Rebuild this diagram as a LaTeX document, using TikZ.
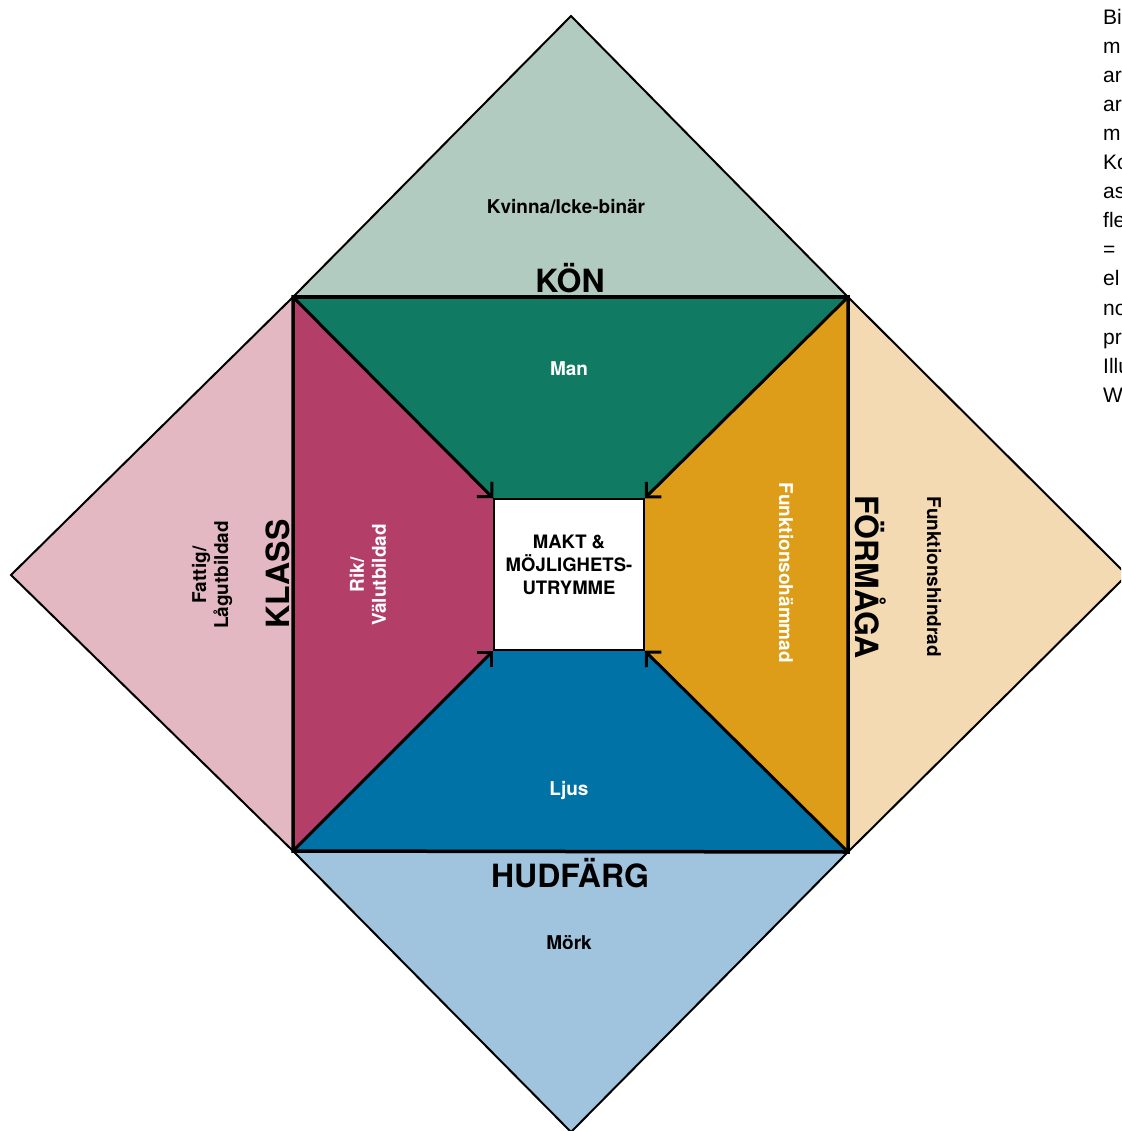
\documentclass[tikz,border=0pt]{standalone}
\usepackage{fontspec}
\setmainfont{TeX Gyre Heros}
\newfontfamily\notefont{Liberation Sans}
\usetikzlibrary{arrows.meta}
\definecolor{konlight}{RGB}{178,203,193}
\definecolor{kondark}{RGB}{16,122,98}
\definecolor{klasslight}{RGB}{227,184,194}
\definecolor{klassdark}{RGB}{179,63,105}
\definecolor{formlight}{RGB}{243,218,178}
\definecolor{formdark}{RGB}{222,157,24}
\definecolor{hudlight}{RGB}{160,196,222}
\definecolor{huddark}{RGB}{0,114,166}

\begin{document}
\begin{tikzpicture}[x=1pt,y=-1pt,
  rim/.style={line width=2pt,line join=miter},
  side/.style={line width=3.5pt,line join=miter},
  spoke/.style={line width=3pt,-{Straight Barb[angle=90:15pt]}},
  lbl/.style={font=\fontsize{19}{22}\selectfont\bfseries,align=center},
  dim/.style={font=\fontsize{32}{34}\selectfont\bfseries},
  note/.style={font=\notefont\fontsize{21}{25}\selectfont,inner sep=0pt}]
\useasboundingbox (0,0) rectangle (1121,1131);
\clip (0,0) rectangle (1121,1131);
% outer diamond tips and the square
\coordinate (top) at (571,16);
\coordinate (left) at (11,575);
\coordinate (right) at (1127,575);
\coordinate (bottom) at (571,1132);
\coordinate (sqnw) at (293,297);
\coordinate (sqne) at (848,297);
\coordinate (sqse) at (848,852);
\coordinate (sqsw) at (293,851);
% corners of the centre box
\coordinate (bxnw) at (494,499);
\coordinate (bxne) at (644,499);
\coordinate (bxse) at (644,650);
\coordinate (bxsw) at (494,650);
% outer triangles
\fill[konlight] (top) -- (sqne) -- (sqnw) -- cycle;
\fill[klasslight] (left) -- (sqnw) -- (sqsw) -- cycle;
\fill[formlight] (right) -- (sqse) -- (sqne) -- cycle;
\fill[hudlight] (bottom) -- (sqsw) -- (sqse) -- cycle;
% inner trapezoids
\fill[kondark] (sqnw) -- (sqne) -- (bxne) -- (bxnw) -- cycle;
\fill[klassdark] (sqnw) -- (bxnw) -- (bxsw) -- (sqsw) -- cycle;
\fill[formdark] (sqne) -- (sqse) -- (bxse) -- (bxne) -- cycle;
\fill[huddark] (sqsw) -- (bxsw) -- (bxse) -- (sqse) -- cycle;
\node[draw,line width=1.5pt,fill=white,minimum width=150pt,minimum height=151pt,
  inner sep=0pt] (makt) at (569,574.5) {};
\node[lbl,font=\fontsize{18.5}{23}\selectfont\bfseries] (makttext) at (569,565)
  {MAKT \&\\MÖJLIGHETS-\\UTRYMME};
\draw[rim] (top) -- (sqnw) -- (left) -- (sqsw) -- (bottom) -- (sqse) -- (right) -- (sqne) -- cycle;
\draw[side] (sqnw) -- (sqne) -- (sqse) -- (sqsw) -- cycle;
\draw[spoke] (sqnw) -- (makt.north west);
\draw[spoke] (sqne) -- (makt.north east);
\draw[spoke] (sqse) -- (makt.south east);
\draw[spoke] (sqsw) -- (makt.south west);
% labels
\node[lbl] (kvinna) at (566,207) {Kvinna/Icke-binär};
\node[dim] (kon) at (570,278) {KÖN};
\node[lbl,text=white] (man) at (569,369) {Man};
\node[lbl,rotate=90] (fattig) at (212,575) {Fattig/\\Lågutbildad};
\node[dim,rotate=90] (klass) at (278,574) {KLASS};
\node[lbl,text=white,rotate=90] (rik) at (368,575) {Rik/\\Välutbildad};
\node[lbl,text=white,rotate=-90] (ohammad) at (786,573) {Funktionsohämmad};
\node[dim,rotate=-90] (formaga) at (871,577) {FÖRMÅGA};
\node[lbl,rotate=-90] (hindrad) at (934,577) {Funktionshindrad};
\node[lbl,text=white] (ljus) at (569,790) {Ljus};
\node[dim] (hudfarg) at (570,873) {HUDFÄRG};
\node[lbl] (mork) at (569,943) {Mörk};
% caption cut off at the right edge
\foreach \t [count=\k from 0] in {Bi,m,ar,ar,m,Ko,as,fle,=,el,no,pr,Illu,W}
  \node[note,anchor=base west] (note\k) at (1103,25+29*\k) {\t};
\end{tikzpicture}
\end{document}
